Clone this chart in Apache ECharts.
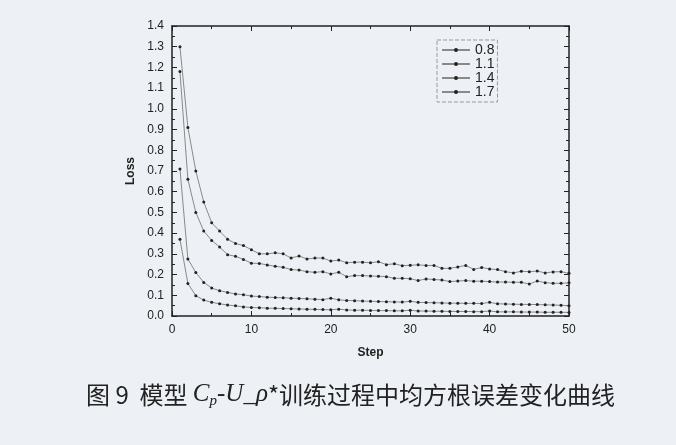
<!DOCTYPE html>
<html>
<head>
<meta charset="utf-8">
<script src="https://cdn.jsdelivr.net/npm/echarts@6/dist/echarts.min.js"></script>
<style>
  html, body { margin: 0; padding: 0; background: #edf0f4; }
  #main { width: 676px; height: 445px; }
</style>
</head>
<body>
<div id="main"></div>
<script>
var steps = []
for (var i = 1; i <= 50; i++) steps.push(i)

var names = ['0.8', '1.1', '1.4', '1.7']

var loss08 = [1.30, 0.91, 0.70, 0.55, 0.45, 0.41, 0.37, 0.35, 0.34, 0.32,
  0.30, 0.30, 0.305, 0.30, 0.28, 0.29, 0.275, 0.28, 0.28, 0.265,
  0.27, 0.257, 0.26, 0.26, 0.257, 0.262, 0.248, 0.252, 0.243, 0.245,
  0.247, 0.244, 0.244, 0.23, 0.23, 0.237, 0.244, 0.225, 0.234, 0.227,
  0.224, 0.214, 0.208, 0.216, 0.214, 0.217, 0.208, 0.213, 0.214, 0.206]
var loss11 = [1.18, 0.66, 0.50, 0.41, 0.365, 0.333, 0.296, 0.288, 0.273, 0.255,
  0.254, 0.246, 0.24, 0.235, 0.224, 0.222, 0.214, 0.211, 0.214, 0.203,
  0.211, 0.19, 0.195, 0.195, 0.193, 0.192, 0.19, 0.182, 0.182, 0.18,
  0.171, 0.179, 0.176, 0.174, 0.166, 0.169, 0.171, 0.168, 0.168, 0.166,
  0.164, 0.164, 0.163, 0.163, 0.154, 0.169, 0.161, 0.158, 0.158, 0.16]
var loss14 = [0.71, 0.275, 0.21, 0.162, 0.135, 0.122, 0.114, 0.106, 0.103, 0.096,
  0.094, 0.091, 0.089, 0.088, 0.086, 0.085, 0.083, 0.081, 0.079, 0.086,
  0.078, 0.075, 0.074, 0.072, 0.071, 0.07, 0.069, 0.068, 0.067, 0.071,
  0.066, 0.065, 0.064, 0.063, 0.062, 0.062, 0.061, 0.061, 0.06, 0.066,
  0.059, 0.058, 0.057, 0.056, 0.056, 0.055, 0.054, 0.053, 0.052, 0.049]
var loss17 = [0.37, 0.157, 0.098, 0.077, 0.066, 0.059, 0.053, 0.049, 0.044, 0.041,
  0.04, 0.038, 0.037, 0.036, 0.035, 0.034, 0.033, 0.032, 0.031, 0.03,
  0.033, 0.029, 0.028, 0.028, 0.027, 0.026, 0.026, 0.025, 0.025, 0.028,
  0.024, 0.024, 0.023, 0.023, 0.022, 0.022, 0.022, 0.021, 0.021, 0.024,
  0.02, 0.02, 0.02, 0.019, 0.019, 0.019, 0.018, 0.018, 0.018, 0.017]

var allLoss = [loss08, loss11, loss14, loss17]

var dom = document.getElementById('main')
var myChart = echarts.init(dom)

function pairs(arr) {
  return arr.map(function (v, i) { return [steps[i], v] })
}

var axisFont = { fontFamily: 'Liberation Sans', fontSize: 12, color: '#222' }
var tickStyle = { color: '#222' }

var series = allLoss.map(function (arr, k) {
  return {
    name: names[k],
    type: 'line',
    data: pairs(arr),
    symbol: 'circle',
    symbolSize: 3,
    showSymbol: true,
    lineStyle: { color: '#8a8a8a', width: 1 },
    itemStyle: { color: '#222' },
    animation: false
  }
})

var option = {
  backgroundColor: '#edf0f4',
  grid: { left: 172, right: 107, top: 26, bottom: 129 },
  legend: {
    data: names,
    orient: 'vertical',
    left: 437,
    top: 40,
    itemWidth: 28,
    itemHeight: 5,
    itemGap: 0,
    padding: [3, 3, 3, 4],
    borderColor: '#999',
    borderWidth: 1,
    borderType: 'dashed',
    textStyle: { fontFamily: 'Liberation Sans', fontSize: 14, color: '#222' }
  },
  xAxis: [
    {
      type: 'value', min: 0, max: 50, interval: 10,
      name: 'Step', nameLocation: 'middle', nameGap: 31,
      nameTextStyle: { fontFamily: 'Liberation Sans', fontSize: 12, fontWeight: 'bold', color: '#222' },
      axisLine: { onZero: false, lineStyle: { color: '#222', width: 1.5 } },
      axisTick: { inside: true, length: 5, lineStyle: tickStyle },
      minorTick: { show: true, splitNumber: 2, length: 3, lineStyle: tickStyle },
      axisLabel: axisFont,
      splitLine: { show: false }
    },
    {
      type: 'value', min: 0, max: 50, interval: 10, position: 'top',
      axisLine: { show: true, onZero: false, lineStyle: { color: '#222', width: 1.5 } },
      axisTick: { show: true, inside: true, length: 5, lineStyle: tickStyle },
      minorTick: { show: true, splitNumber: 2, length: 3, lineStyle: tickStyle },
      axisLabel: { show: false },
      splitLine: { show: false }
    }
  ],
  yAxis: [
    {
      type: 'value', min: 0, max: 1.4, interval: 0.1,
      name: 'Loss', nameLocation: 'middle', nameGap: 25, nameRotate: 90,
      nameTextStyle: { fontFamily: 'Liberation Sans', fontSize: 12, fontWeight: 'bold', color: '#222' },
      axisLine: { show: true, onZero: false, lineStyle: { color: '#222', width: 1.5 } },
      axisTick: { show: true, inside: true, length: 5, lineStyle: tickStyle },
      minorTick: { show: true, splitNumber: 2, length: 3, lineStyle: tickStyle },
      axisLabel: Object.assign({ formatter: function (v) { return v.toFixed(1) } }, axisFont),
      splitLine: { show: false }
    },
    {
      type: 'value', min: 0, max: 1.4, interval: 0.1, position: 'right',
      axisLine: { show: true, onZero: false, lineStyle: { color: '#222', width: 1.5 } },
      axisTick: { show: true, inside: true, length: 5, lineStyle: tickStyle },
      minorTick: { show: true, splitNumber: 2, length: 3, lineStyle: tickStyle },
      axisLabel: { show: false },
      splitLine: { show: false }
    }
  ],
  graphic: [
    {
      type: 'text',
      left: 86,
      top: 382,
      style: {
        text: '{cn|图 9  模型 }{it|C}{sub|p}{it|-U_ρ}{cn|*训练过程中均方根误差变化曲线}',
        rich: {
          cn: { fontFamily: 'Noto Sans CJK SC', fontSize: 24, fill: '#222' },
          it: { fontFamily: 'Liberation Serif', fontStyle: 'italic', fontSize: 25, fill: '#222' },
          sub: { fontFamily: 'Liberation Serif', fontStyle: 'italic', fontSize: 15, fill: '#222', padding: [13, 0, 0, 0] }
        }
      }
    }
  ],
  series: series
}

if (option && typeof option === 'object') {
  myChart.setOption(option, true)
}
</script>
</body>
</html>
